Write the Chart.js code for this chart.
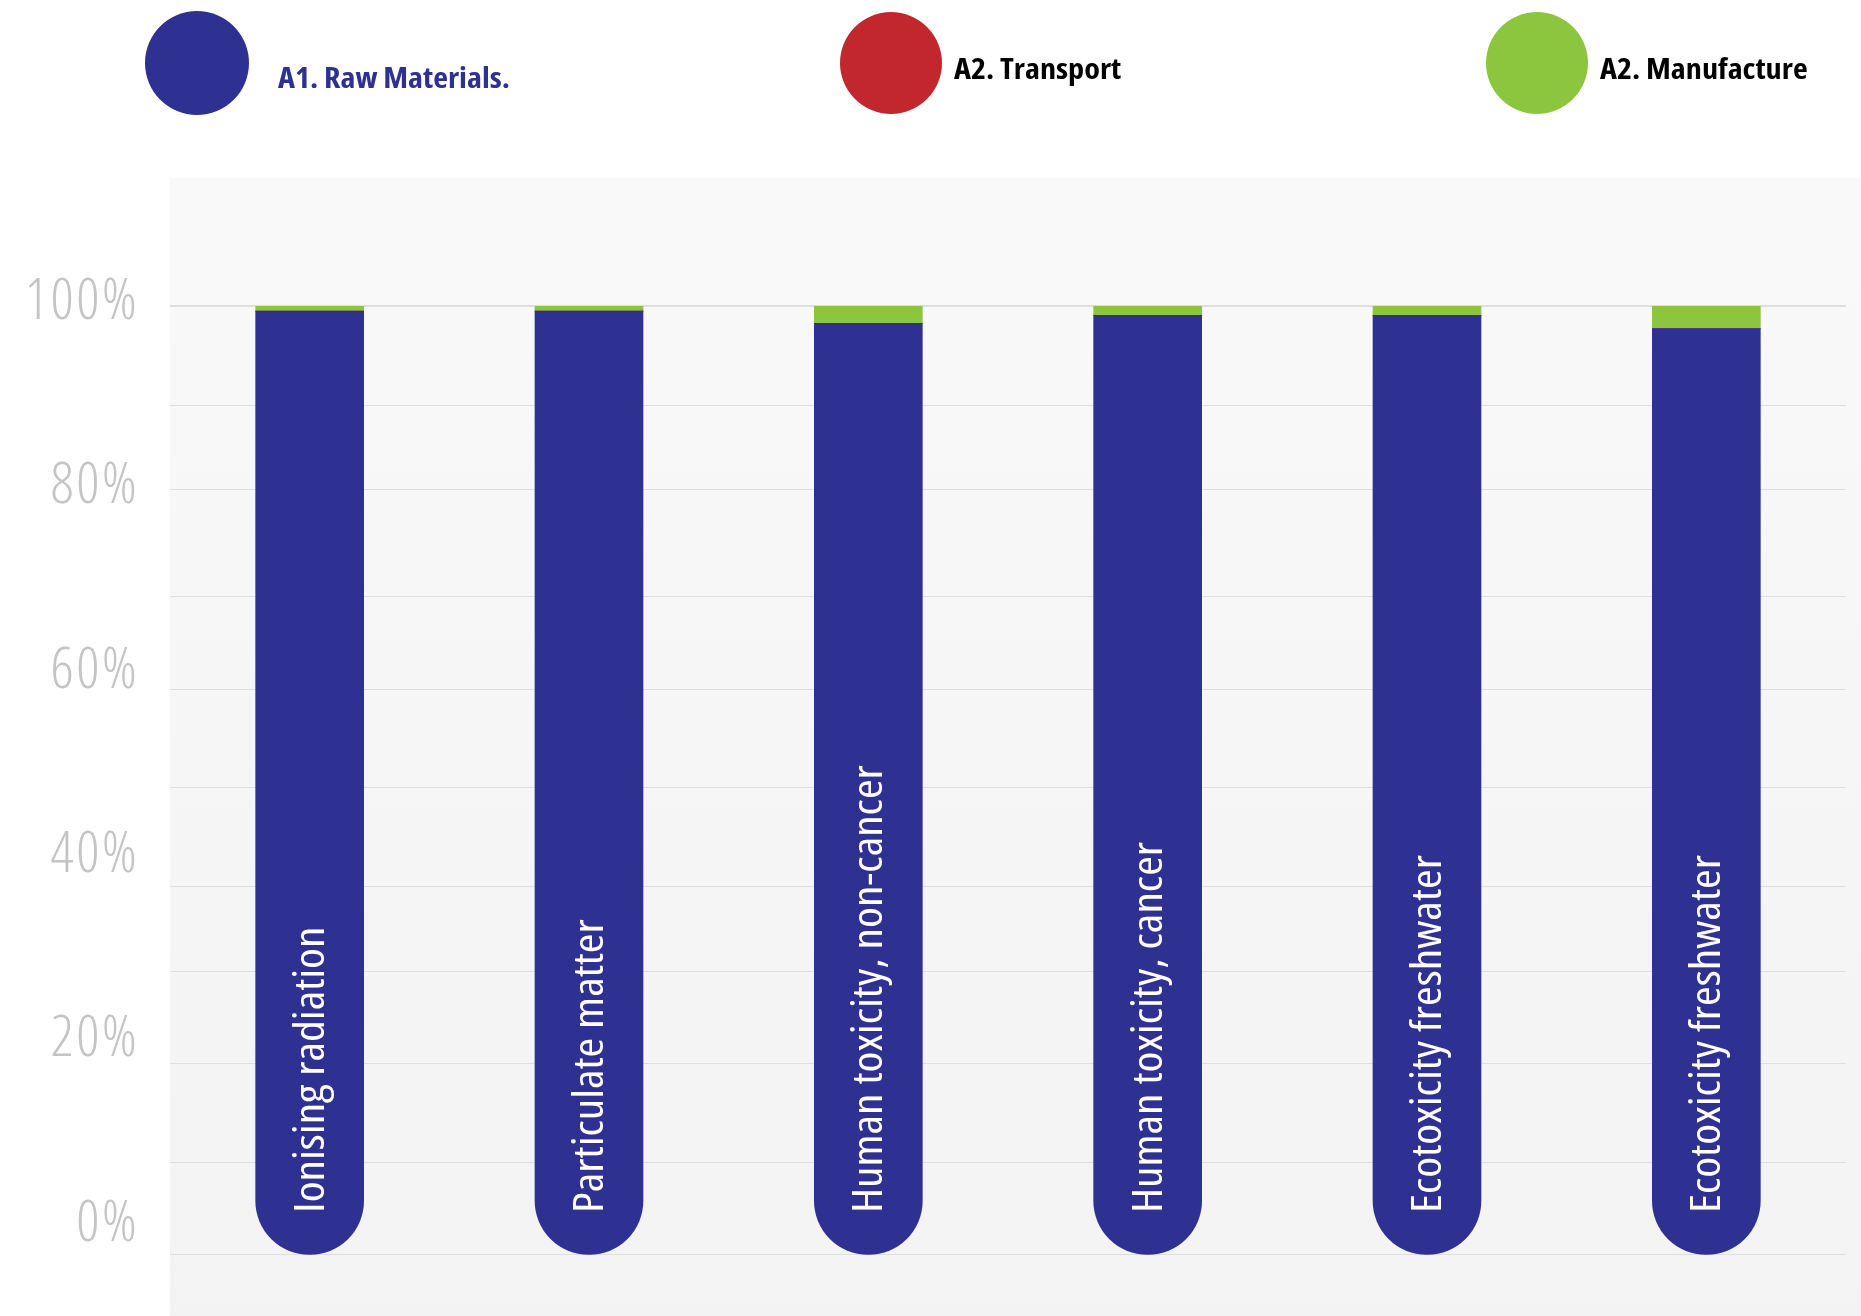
<!DOCTYPE html>
<html><head><meta charset="utf-8">
<script src="https://cdn.jsdelivr.net/npm/chart.js@4.4.0/dist/chart.umd.min.js"></script>
<style>
html,body{margin:0;padding:0;background:#fff;}
#wrap{position:relative;width:1861px;height:1316px;overflow:hidden;}
#c{position:absolute;left:0;top:0;}
#legend{position:absolute;left:0;top:0;width:1861px;height:178px;}
.lg-dot{position:absolute;border-radius:50%;}
.lg-text{position:absolute;white-space:nowrap;font-family:"Open Sans",sans-serif;font-stretch:condensed;font-weight:700;font-size:29px;line-height:1;transform:scaleX(1.11);transform-origin:0 50%;}
</style></head>
<body><div id="wrap"><canvas id="c" width="1861" height="1316"></canvas><div id="legend"></div></div>
<script>
// ---- data ----
const categories = ['Ionising radiation', 'Particulate matter', 'Human toxicity, non-cancer', 'Human toxicity, cancer', 'Ecotoxicity freshwater', 'Ecotoxicity freshwater'];
const seriesNames = ['A1. Raw Materials.', 'A2. Transport', 'A2. Manufacture'];
const rawMaterials = [99.5, 99.5, 98.2, 99.05, 99.05, 97.65];
const transport = [0, 0, 0, 0, 0, 0];
const manufacture = [0.5, 0.5, 1.8, 0.95, 0.95, 2.35];
const percentTicks = [0, 20, 40, 60, 80, 100];
const gridTicks = [0, 9.73, 20.18, 29.85, 38.79, 49.23, 59.6, 69.36, 80.64, 89.54, 100];

// ---- styles ----
const colors = ['#2e3192', '#c1272d', '#8cc63f'];
const FONT = '"Open Sans", sans-serif';
const legendLayout = [
  {dotLeft: 145, dotTop: 11, size: 104, textLeft: 278, textTop: 62, color: '#2e3192'},
  {dotLeft: 840, dotTop: 12, size: 102, textLeft: 954, textTop: 53, color: '#000000'},
  {dotLeft: 1486, dotTop: 12, size: 102, textLeft: 1600, textTop: 53, color: '#000000'}
];

const panelPlugin = {
  id: 'panel',
  beforeDraw(chart) {
    const {ctx, chartArea} = chart;
    const g = ctx.createLinearGradient(0, chartArea.top, 0, chart.height);
    g.addColorStop(0, '#f9f9f9');
    g.addColorStop(1, '#f3f3f3');
    ctx.save();
    ctx.fillStyle = g;
    ctx.fillRect(chartArea.left, chartArea.top, chart.width - chartArea.left, chart.height - chartArea.top);
    ctx.restore();
    // wider tracking for the axis labels (Titillium-like look)
    if ('letterSpacing' in ctx) ctx.letterSpacing = '2.5px';
  },
  beforeDatasetsDraw(chart) {
    if ('letterSpacing' in chart.ctx) chart.ctx.letterSpacing = '0px';
  }
};

const barLabelPlugin = {
  id: 'barLabels',
  afterDatasetsDraw(chart) {
    const {ctx} = chart;
    const xs = chart.scales.x, ys = chart.scales.y;
    ctx.save();
    ctx.fillStyle = '#ffffff';
    ctx.font = 'condensed 400 41px ' + FONT;
    try { ctx.fontStretch = 'condensed'; } catch (e) {}
    ctx.textAlign = 'left';
    ctx.textBaseline = 'alphabetic';
    chart.data.labels.forEach((lab, i) => {
      const x = xs.getPixelForValue(i) + 14;
      const y = ys.getPixelForValue(0) - 42;
      ctx.save();
      ctx.translate(x, y);
      ctx.rotate(-Math.PI / 2);
      ctx.scale(1.16, 1);
      ctx.fillText(lab, 0, 0);
      ctx.restore();
    });
    ctx.restore();
  }
};

const BAR_W = 108;
const chart = new Chart(document.getElementById('c'), {
  type: 'bar',
  data: {
    labels: categories,
    datasets: [
      {label: seriesNames[0], data: rawMaterials, backgroundColor: colors[0], barThickness: BAR_W,
       borderRadius: {topLeft: 0, topRight: 0, bottomLeft: BAR_W / 2, bottomRight: BAR_W / 2}, borderSkipped: false},
      {label: seriesNames[1], data: transport, backgroundColor: colors[1], barThickness: BAR_W},
      {label: seriesNames[2], data: manufacture, backgroundColor: colors[2], barThickness: BAR_W}
    ]
  },
  options: {
    responsive: false,
    devicePixelRatio: 1,
    animation: false,
    layout: {padding: {top: 178, left: 0, right: 15, bottom: 0}},
    plugins: {legend: {display: false}, tooltip: {enabled: false}},
    scales: {
      x: {stacked: true, display: false, offset: true},
      y: {
        stacked: true, position: 'left', min: -6.430, max: 113.524,
        afterBuildTicks: s => { s.ticks = gridTicks.map(v => ({value: v})); },
        ticks: {display: false},
        grid: {color: '#dedede', lineWidth: c => (c.tick && c.tick.value === 100 ? 2 : 1), drawTicks: false},
        border: {display: false},
        afterFit: s => { s.width = 0; s.paddingTop = 0; s.paddingBottom = 0; }
      },
      y2: {
        position: 'left', min: -9.924, max: 113.503,
        afterBuildTicks: s => { s.ticks = percentTicks.map(v => ({value: v})); },
        ticks: {callback: v => v + '%', color: '#c4c4c4', padding: 31, font: {family: FONT, size: 57, weight: '300 condensed'}},
        grid: {display: false, drawTicks: false},
        border: {display: false},
        afterFit: s => { s.width = 170; s.paddingTop = 0; s.paddingBottom = 0; }
      }
    }
  },
  plugins: [panelPlugin, barLabelPlugin]
});

// ---- HTML legend from chart datasets ----
const legendEl = document.getElementById('legend');
chart.data.datasets.forEach((ds, i) => {
  const L = legendLayout[i];
  const dot = document.createElement('div');
  dot.className = 'lg-dot';
  Object.assign(dot.style, {left: L.dotLeft + 'px', top: L.dotTop + 'px', width: L.size + 'px', height: L.size + 'px', background: ds.backgroundColor});
  const txt = document.createElement('div');
  txt.className = 'lg-text';
  txt.textContent = ds.label;
  Object.assign(txt.style, {left: L.textLeft + 'px', top: L.textTop + 'px', color: L.color});
  legendEl.appendChild(dot);
  legendEl.appendChild(txt);
});
</script>
</body></html>
